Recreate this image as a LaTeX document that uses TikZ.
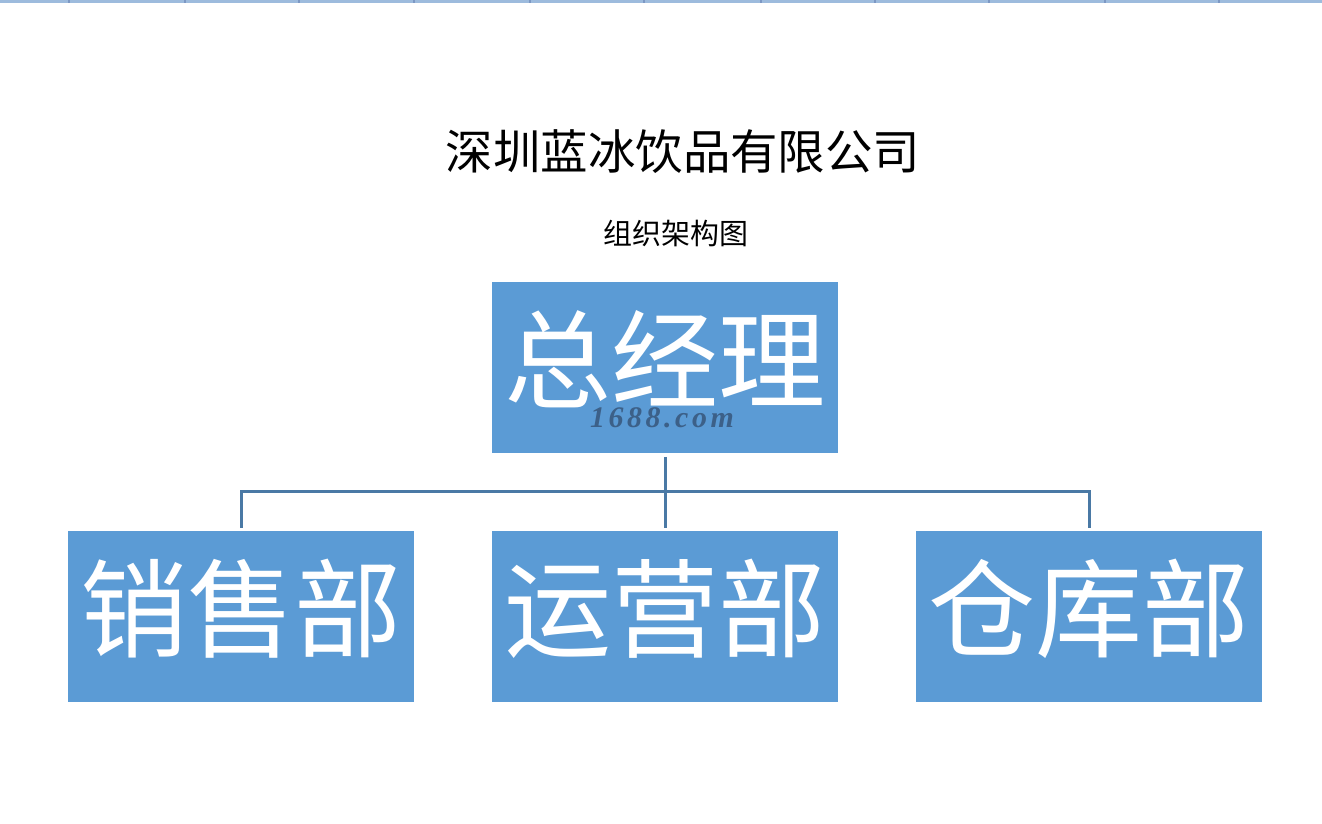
\documentclass[tikz,border=0pt]{standalone}
\usepackage{fontspec}
\newfontfamily\cjk{Noto Sans CJK SC}
\newfontfamily\wmfont[LetterSpace=12]{Liberation Serif}
\definecolor{boxblue}{HTML}{5B9BD5}
\definecolor{linkblue}{HTML}{4A79A5}
\definecolor{barblue}{HTML}{9DBBDD}
\definecolor{tickblue}{HTML}{7C98C4}
\definecolor{wmark}{HTML}{3C6088}
\begin{document}
\begin{tikzpicture}[x=0.02cm,y=-0.02cm,
  orgbox/.style={fill=boxblue,draw=none,minimum width=6.92cm,minimum height=3.42cm,inner sep=0pt,
    text height=54pt,text depth=16pt,
    text=white,font=\cjk\fontsize{61}{61}\selectfont},
  conn/.style={draw=linkblue,line width=0.06cm}]
\useasboundingbox (0,0) rectangle (1322,824);
\fill[white] (0,0) rectangle (1322,824);
% top spreadsheet border
\fill[barblue] (0,0) rectangle (1322,3);
\foreach \t in {69,185,299,414,530,644,761,875,989,1105,1219}
  \fill[tickblue] (\t-1,0) rectangle (\t+1,3);
% titles
\node[font=\cjk\fontsize{27}{27}\selectfont] (title) at (683,152) {深圳蓝冰饮品有限公司};
\node[font=\cjk\fontsize{16.5}{16.5}\selectfont] (subtitle) at (676,233) {组织架构图};
% boxes
\node[orgbox] (gm) at (665,367.5) {总经理};
\node[orgbox] (sales) at (241,616.5) {销售部};
\node[orgbox] (ops) at (665,616.5) {运营部};
\node[orgbox] (store) at (1089,616.5) {仓库部};
% watermark
\node[font=\wmfont\bfseries\itshape\fontsize{17}{17}\selectfont,text=wmark] (wm) at (662,418) {1688.com};
% connectors
\draw[conn] ([yshift=-0.07cm]gm.south) -- ([yshift=0.06cm]ops.north);
\draw[conn] ([yshift=0.06cm]sales.north) -- ++(0,0.72cm) -| ([yshift=0.06cm]store.north);
\end{tikzpicture}
\end{document}
